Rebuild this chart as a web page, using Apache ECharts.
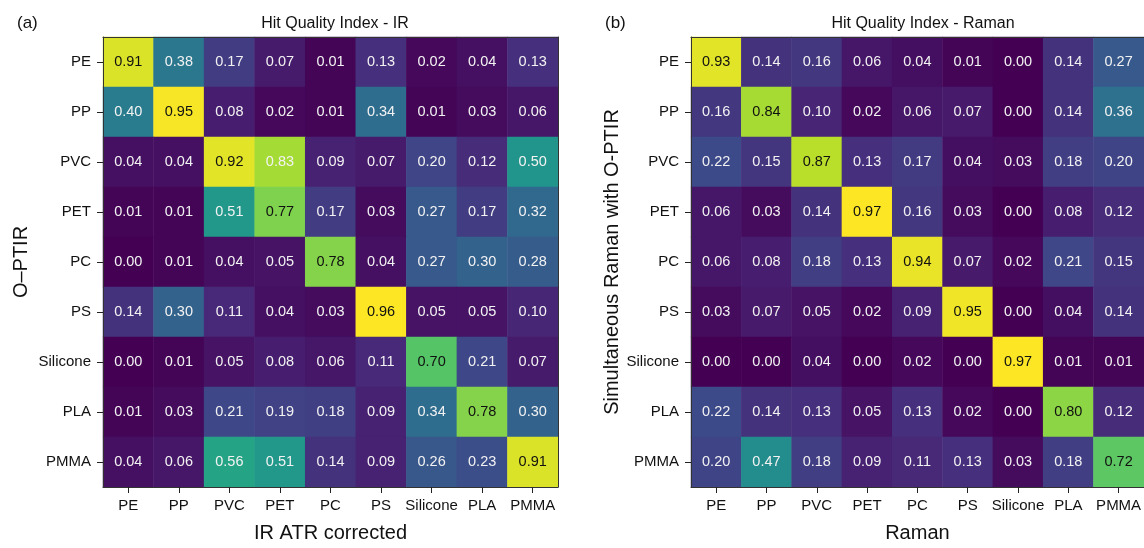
<!DOCTYPE html>
<html>
<head>
<meta charset="utf-8">
<title>Hit Quality Index</title>
<script src="https://cdn.jsdelivr.net/npm/echarts@6/dist/echarts.min.js"></script>
<style>
  html, body { margin: 0; padding: 0; background: #fff; }
  #chart { width: 1144px; height: 548px; }
</style>
</head>
<body>
<div id="chart"></div>
<script>
// polymer names, rows top->bottom, columns left->right
const polymers = ["PE", "PP", "PVC", "PET", "PC", "PS", "Silicone", "PLA", "PMMA"];

// (a) IR: rows = O-PTIR, columns = IR ATR corrected
const irValues = [
  [0.91, 0.38, 0.17, 0.07, 0.01, 0.13, 0.02, 0.04, 0.13],
  [0.40, 0.95, 0.08, 0.02, 0.01, 0.34, 0.01, 0.03, 0.06],
  [0.04, 0.04, 0.92, 0.83, 0.09, 0.07, 0.20, 0.12, 0.50],
  [0.01, 0.01, 0.51, 0.77, 0.17, 0.03, 0.27, 0.17, 0.32],
  [0.00, 0.01, 0.04, 0.05, 0.78, 0.04, 0.27, 0.30, 0.28],
  [0.14, 0.30, 0.11, 0.04, 0.03, 0.96, 0.05, 0.05, 0.10],
  [0.00, 0.01, 0.05, 0.08, 0.06, 0.11, 0.70, 0.21, 0.07],
  [0.01, 0.03, 0.21, 0.19, 0.18, 0.09, 0.34, 0.78, 0.30],
  [0.04, 0.06, 0.56, 0.51, 0.14, 0.09, 0.26, 0.23, 0.91]
];

// (b) Raman: rows = simultaneous Raman with O-PTIR, columns = Raman
const ramanValues = [
  [0.93, 0.14, 0.16, 0.06, 0.04, 0.01, 0.00, 0.14, 0.27],
  [0.16, 0.84, 0.10, 0.02, 0.06, 0.07, 0.00, 0.14, 0.36],
  [0.22, 0.15, 0.87, 0.13, 0.17, 0.04, 0.03, 0.18, 0.20],
  [0.06, 0.03, 0.14, 0.97, 0.16, 0.03, 0.00, 0.08, 0.12],
  [0.06, 0.08, 0.18, 0.13, 0.94, 0.07, 0.02, 0.21, 0.15],
  [0.03, 0.07, 0.05, 0.02, 0.09, 0.95, 0.00, 0.04, 0.14],
  [0.00, 0.00, 0.04, 0.00, 0.02, 0.00, 0.97, 0.01, 0.01],
  [0.22, 0.14, 0.13, 0.05, 0.13, 0.02, 0.00, 0.80, 0.12],
  [0.20, 0.47, 0.18, 0.09, 0.11, 0.13, 0.03, 0.18, 0.72]
];

// cells whose label stays light even though the cell is bright ([col, row])
const irLightLabels = [[3, 2]];

const viridis = ["#440154", "#482878", "#3e4989", "#31688e", "#26828e",
                 "#1f9e89", "#35b779", "#6ece58", "#b5de2b", "#fde725"];

const FONT = "'Liberation Sans', Arial, sans-serif";

function toCells(matrix, lightLabels) {
  const out = [];
  for (let r = 0; r < matrix.length; r++) {
    for (let c = 0; c < matrix[r].length; c++) {
      const v = matrix[r][c];
      const light = lightLabels.some(p => p[0] === c && p[1] === r);
      out.push({
        value: [c, r, v],
        label: { color: (v >= 0.6 && !light) ? "#111" : "#f2f2f2" }
      });
    }
  }
  return out;
}

function panelAxes(gridIndex, xName, yName, yGap) {
  const common = {
    type: "category",
    data: polymers,
    gridIndex: gridIndex,
    z: 10,
    axisLine: { show: true, lineStyle: { color: "#333", width: 1 } },
    splitLine: { show: false }
  };
  const x = [
    Object.assign({}, common, {
      position: "bottom",
      name: xName,
      nameLocation: "middle",
      nameGap: 36,
      nameTextStyle: { fontSize: 20, color: "#111", fontFamily: FONT },
      axisTick: { show: true, alignWithLabel: true, length: 6, lineStyle: { color: "#222" } },
      axisLabel: { fontSize: 15, color: "#111", margin: 11, fontFamily: FONT, interval: 0 }
    }),
    Object.assign({}, common, {
      position: "top",
      axisTick: { show: false },
      axisLabel: { show: false }
    })
  ];
  const y = [
    Object.assign({}, common, {
      position: "left",
      inverse: true,
      name: yName,
      nameLocation: "middle",
      nameGap: yGap,
      nameTextStyle: { fontSize: 20, color: "#111", fontFamily: FONT },
      axisTick: { show: true, alignWithLabel: true, length: 6, lineStyle: { color: "#222" } },
      axisLabel: { fontSize: 15, color: "#111", margin: 12, fontFamily: FONT, interval: 0 }
    }),
    Object.assign({}, common, {
      position: "right",
      inverse: true,
      axisTick: { show: false },
      axisLabel: { show: false }
    })
  ];
  return { x: x, y: y };
}

const left = panelAxes(0, "IR ATR corrected", "O\u2013PTIR", 72);
const right = panelAxes(1, "Raman", "Simultaneous Raman with O-PTIR", 68);

const labelStyle = {
  show: true,
  fontSize: 14.5,
  fontFamily: FONT,
  formatter: p => p.value[2].toFixed(2)
};

const titleStyle = { fontSize: 16, fontWeight: "normal", color: "#111", fontFamily: FONT };

const myChart = echarts.init(document.getElementById("chart"));
const option = {
  backgroundColor: "#fff",
  animation: false,
  textStyle: { fontFamily: FONT },
  title: [
    { text: "(a)", left: 12, top: 10, textStyle: Object.assign({}, titleStyle, { fontSize: 17 }) },
    { text: "Hit Quality Index - IR", left: 330, top: 11, textAlign: "center", textStyle: titleStyle },
    { text: "(b)", left: 600, top: 10, textStyle: Object.assign({}, titleStyle, { fontSize: 17 }) },
    { text: "Hit Quality Index - Raman", left: 918, top: 11, textAlign: "center", textStyle: titleStyle }
  ],
  grid: [
    { left: 103, top: 37, width: 455, height: 457 },
    { left: 691, top: 37, width: 455, height: 457 }
  ],
  xAxis: [left.x[0], left.x[1], right.x[0], right.x[1]],
  yAxis: [left.y[0], left.y[1], right.y[0], right.y[1]],
  visualMap: [
    { type: "continuous", show: false, min: 0, max: 0.96, seriesIndex: 0, inRange: { color: viridis } },
    { type: "continuous", show: false, min: 0, max: 0.97, seriesIndex: 1, inRange: { color: viridis } }
  ],
  series: [
    {
      name: "IR",
      type: "heatmap",
      xAxisIndex: 0,
      yAxisIndex: 0,
      data: toCells(irValues, irLightLabels),
      label: labelStyle,
      itemStyle: { borderWidth: 0 },
      emphasis: { disabled: true }
    },
    {
      name: "Raman",
      type: "heatmap",
      xAxisIndex: 2,
      yAxisIndex: 2,
      data: toCells(ramanValues, []),
      label: labelStyle,
      itemStyle: { borderWidth: 0 },
      emphasis: { disabled: true }
    }
  ]
};
myChart.setOption(option);
</script>
</body>
</html>
